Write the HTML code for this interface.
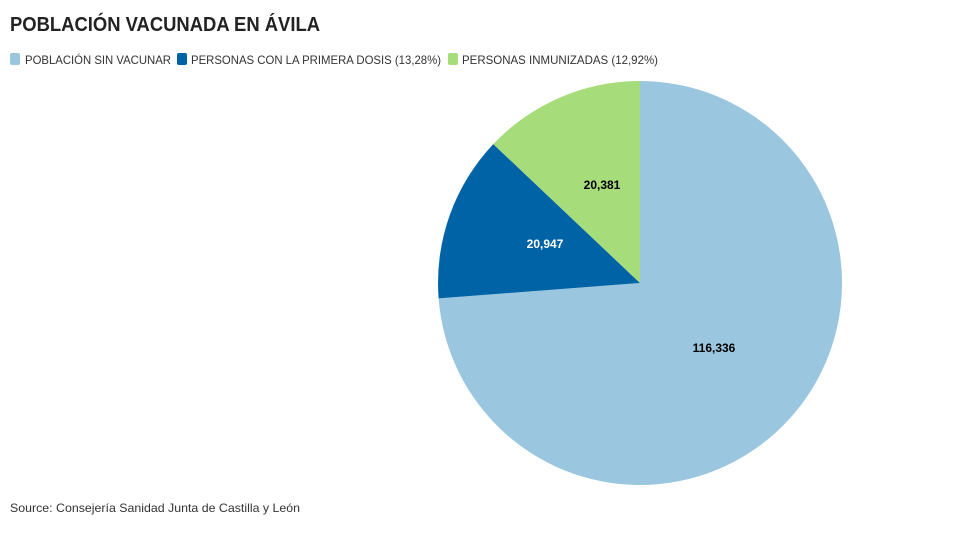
<!DOCTYPE html>
<html><head><meta charset="utf-8"><style>html,body{margin:0;padding:0;background:#fff}svg{display:block}</style></head>
<body>
<svg width="980" height="550" xmlns="http://www.w3.org/2000/svg" font-family="Liberation Sans, sans-serif">
<text x="10" y="31" font-size="20" font-weight="bold" fill="#222" textLength="310" lengthAdjust="spacingAndGlyphs">POBLACIÓN VACUNADA EN ÁVILA</text>
<rect x="10" y="53" width="10" height="12" rx="2" fill="#9ac7df"/>
<text x="25" y="64" font-size="12" fill="#333" textLength="146" lengthAdjust="spacingAndGlyphs">POBLACIÓN SIN VACUNAR</text>
<rect x="177" y="53" width="10" height="12" rx="2" fill="#0063a6"/>
<text x="191" y="64" font-size="12" fill="#333" textLength="250" lengthAdjust="spacingAndGlyphs">PERSONAS CON LA PRIMERA DOSIS (13,28%)</text>
<rect x="448" y="53" width="10" height="12" rx="2" fill="#a6dc7a"/>
<text x="462" y="64" font-size="12" fill="#333" textLength="196" lengthAdjust="spacingAndGlyphs">PERSONAS INMUNIZADAS (12,92%)</text>
<path d="M640,283 L640,81 A202,202 0 1 1 438.6,298.4 Z" fill="#9ac7df"/>
<path d="M640,283 L438.6,298.4 A202,202 0 0 1 493.3,144.1 Z" fill="#0063a6"/>
<path d="M640,283 L493.3,144.1 A202,202 0 0 1 640,81 Z" fill="#a6dc7a"/>
<text x="714" y="352" font-size="12" font-weight="bold" fill="#000" text-anchor="middle">116,336</text>
<text x="545" y="248" font-size="12" font-weight="bold" fill="#fff" text-anchor="middle">20,947</text>
<text x="602" y="189" font-size="12" font-weight="bold" fill="#000" text-anchor="middle">20,381</text>
<text x="10" y="512" font-size="12" fill="#333" textLength="290" lengthAdjust="spacingAndGlyphs">Source: Consejería Sanidad Junta de Castilla y León</text>
</svg>
</body></html>
